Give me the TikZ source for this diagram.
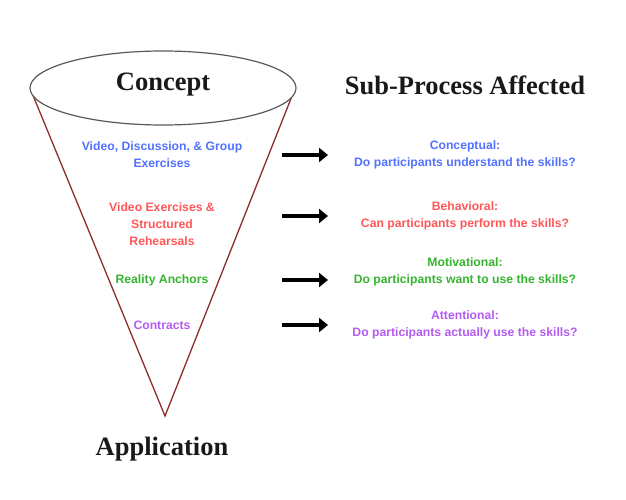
\documentclass[tikz,border=0pt]{standalone}
\usepackage{fontspec}
\setmainfont{Liberation Sans}
\newfontfamily\headfont{Liberation Serif}
\usetikzlibrary{arrows.meta}

\definecolor{cblue}{HTML}{5271FF}
\definecolor{cred}{HTML}{FF5757}
\definecolor{cgreen}{HTML}{36B42F}
\definecolor{cpurple}{HTML}{B45CF0}
\definecolor{conered}{HTML}{8E2C2C}
\definecolor{rimgray}{HTML}{5A5A5A}

\begin{document}
\begin{tikzpicture}[x=1pt,y=-1pt]

	% styles for the labels and the arrows
	\tikzset{
		heading/.style={font=\headfont\bfseries\fontsize{26.5}{30}\selectfont, text=black!90, inner sep=0pt},
		label/.style={font=\bfseries\fontsize{12.2}{17}\selectfont, align=center, inner sep=0pt},
		bigarrow/.style={line width=4pt, -{Triangle[length=9pt, width=14pt]}}
	}
	\useasboundingbox (0,0) rectangle (626,500);

	% the funnel
	\coordinate (apex) at (165,416);
	\coordinate (rimleft) at (32,93);
	\coordinate (rimright) at (294,91);
	\draw[conered, line width=1.3pt] (rimleft) -- (apex) -- (rimright);
	\draw[rimgray, line width=1.2pt, fill=white] (163,88) ellipse (133 and 37);

	% headings
	\node[heading] (concept) at (163,85) {Concept};
	\node[heading] (subproc) at (465,85) {Sub-Process Affected};
	\node[heading] (applic) at (162,449) {Application};

	% inside the funnel
	\node[label, text=cblue] (vdg) at (162,154.5) {Video, Discussion, \& Group\\Exercises};
	\node[label, text=cred] (vesr) at (162,224) {Video Exercises \&\\Structured\\Rehearsals};
	\node[label, text=cgreen] (reality) at (162,280) {Reality Anchors};
	\node[label, text=cpurple] (contracts) at (162,325) {Contracts};

	% sub-processes
	\node[label, text=cblue] (conceptual) at (465,154.5) {Conceptual:\\Do participants understand the skills?};
	\node[label, text=cred] (behavioral) at (465,215.5) {Behavioral:\\Can participants perform the skills?};
	\node[label, text=cgreen] (motivational) at (465,271.5) {Motivational:\\Do participants want to use the skills?};
	\node[label, text=cpurple] (attentional) at (465,325) {Attentional:\\Do participants actually use the skills?};

	% arrows
	\coordinate (aonestart) at (282,155);  \coordinate (aoneend) at (328,155);
	\coordinate (atwostart) at (282,216);  \coordinate (atwoend) at (328,216);
	\coordinate (athreestart) at (282,280); \coordinate (athreeend) at (328,280);
	\coordinate (afourstart) at (282,325); \coordinate (afourend) at (328,325);
	\draw[bigarrow] (aonestart) -- (aoneend);
	\draw[bigarrow] (atwostart) -- (atwoend);
	\draw[bigarrow] (athreestart) -- (athreeend);
	\draw[bigarrow] (afourstart) -- (afourend);

\end{tikzpicture}
\end{document}
